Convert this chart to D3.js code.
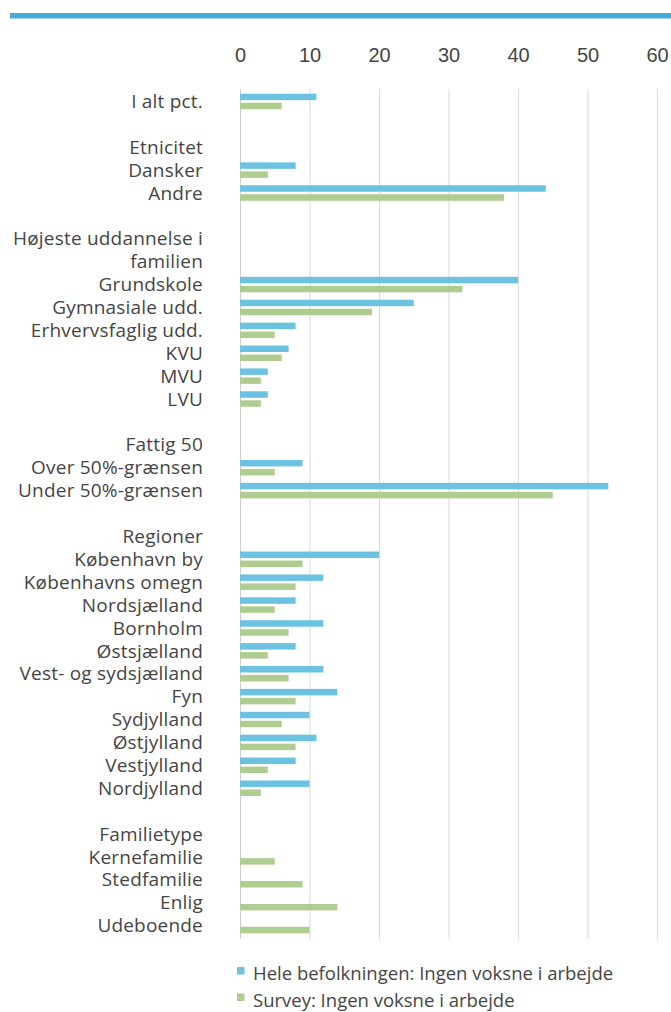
<!DOCTYPE html>
<html>
<head>
<meta charset="utf-8">
<script src="https://cdn.jsdelivr.net/npm/d3@7"></script>
<style>
  body { margin: 0; background: #fff; }
  svg { display: block; font-family: "Open Sans", Roboto, sans-serif; font-weight: 400; }
  .lbl { fill: #454545; font-size: 19px; letter-spacing: 0.2px; }
  .leg-lbl { fill: #454545; font-size: 18.5px; }
  .tick-lbl { fill: #454545; font-size: 20px; }
</style>
</head>
<body>
<svg id="chart" width="671" height="1012"></svg>
<script>
// categories, top to bottom ("" = empty spacer row)
var categories = ["I alt pct.", "", "Etnicitet", "Dansker", "Andre", "", "Højeste uddannelse i familien", "",
  "Grundskole", "Gymnasiale udd.", "Erhvervsfaglig udd.", "KVU", "MVU", "LVU", "",
  "Fattig 50", "Over 50%-grænsen", "Under 50%-grænsen", "",
  "Regioner", "København by", "Københavns omegn", "Nordsjælland", "Bornholm", "Østsjælland",
  "Vest- og sydsjælland", "Fyn", "Sydjylland", "Østjylland", "Vestjylland", "Nordjylland", "",
  "Familietype", "Kernefamilie", "Stedfamilie", "Enlig", "Udeboende"];

// Hele befolkningen: Ingen voksne i arbejde
var hele = [11, null, null, 8, 44, null, null, null,
  40, 25, 8, 7, 4, 4, null,
  null, 9, 53, null,
  null, 20, 12, 8, 12, 8, 12, 14, 10, 11, 8, 10, null,
  null, null, null, null, null];

// Survey: Ingen voksne i arbejde
var survey = [6, null, null, 4, 38, null, null, null,
  32, 19, 5, 6, 3, 3, null,
  null, 5, 45, null,
  null, 9, 8, 5, 7, 4, 7, 8, 6, 8, 4, 3, null,
  null, 5, 9, 14, 10];

var seriesNames = ["Hele befolkningen: Ingen voksne i arbejde", "Survey: Ingen voksne i arbejde"];
var seriesValues = [hele, survey];
var colors = ["#6cc3e1", "#afcd91"];
var xTicks = [0, 10, 20, 30, 40, 50, 60];

var svg = d3.select("svg#chart");

// blue rule at the top
svg.append("rect")
  .attr("x", 10).attr("y", 13)
  .attr("width", 661).attr("height", 5.5)
  .attr("fill", "#4aabd8");

var x = d3.scaleLinear().domain([0, 60]).range([240, 657]);

var y = d3.scaleBand()
  .domain(d3.range(categories.length))
  .range([90, 937]);

var ySub = d3.scaleBand()
  .domain([0, 1])
  .range([0, y.bandwidth()])
  .paddingInner(0.28)
  .paddingOuter(0.41);

// gridlines
svg.append("g")
  .selectAll("line")
  .data(xTicks)
  .enter().append("line")
  .attr("x1", function(d) { return x(d) + 0.5; })
  .attr("x2", function(d) { return x(d) + 0.5; })
  .attr("y1", 89)
  .attr("y2", 939)
  .attr("stroke", function(d) { return d == 0 ? "#cfcfcf" : "#d9d9d9"; })
  .attr("stroke-width", 1);

// tick labels on top
var xAxis = svg.append("g")
  .attr("transform", "translate(0,62)")
  .call(d3.axisTop(x).tickValues(xTicks).tickSize(0).tickPadding(0));
xAxis.select(".domain").remove();
xAxis.selectAll("text")
  .attr("class", "tick-lbl")
  .attr("font-family", null)
  .attr("font-size", null)
  .attr("fill", null);

// bars
var rows = svg.append("g")
  .selectAll("g")
  .data(categories)
  .enter().append("g")
  .attr("transform", function(d, i) { return "translate(0," + y(i) + ")"; });

rows.selectAll("rect")
  .data(function(d, i) {
    return seriesValues.map(function(vals, s) { return { s: s, v: vals[i] }; })
      .filter(function(e) { return e.v != null; });
  })
  .enter().append("rect")
  .attr("x", x(0))
  .attr("y", function(d) { return ySub(d.s); })
  .attr("width", function(d) { return x(d.v) - x(0); })
  .attr("height", ySub.bandwidth())
  .attr("fill", function(d) { return colors[d.s]; });

// category labels
rows.filter(function(d) { return d != "" && d != "Højeste uddannelse i familien"; })
  .append("text")
  .attr("class", "lbl")
  .attr("x", 203)
  .attr("y", y.bandwidth() / 2)
  .attr("dy", "0.35em")
  .attr("text-anchor", "end")
  .text(function(d) { return d; });

// the wrapped label spans two rows
var hIdx = categories.indexOf("Højeste uddannelse i familien");
var hText = svg.append("text")
  .attr("class", "lbl")
  .attr("text-anchor", "end");
hText.append("tspan")
  .attr("x", 203)
  .attr("y", y(hIdx) + y.bandwidth() / 2)
  .attr("dy", "0.35em")
  .text("Højeste uddannelse i");
hText.append("tspan")
  .attr("x", 203)
  .attr("y", y(hIdx + 1) + y.bandwidth() / 2)
  .attr("dy", "0.35em")
  .text("familien");

// legend
var legend = svg.append("g")
  .selectAll("g")
  .data(seriesNames)
  .enter().append("g")
  .attr("transform", function(d, i) { return "translate(237," + (967 + i * 26.5) + ")"; });

legend.append("rect")
  .attr("width", 7.5).attr("height", 7.5)
  .attr("fill", function(d, i) { return colors[i]; });

legend.append("text")
  .attr("class", "leg-lbl")
  .attr("x", 16)
  .attr("y", 13)
  .text(function(d) { return d; });
</script>
</body>
</html>
